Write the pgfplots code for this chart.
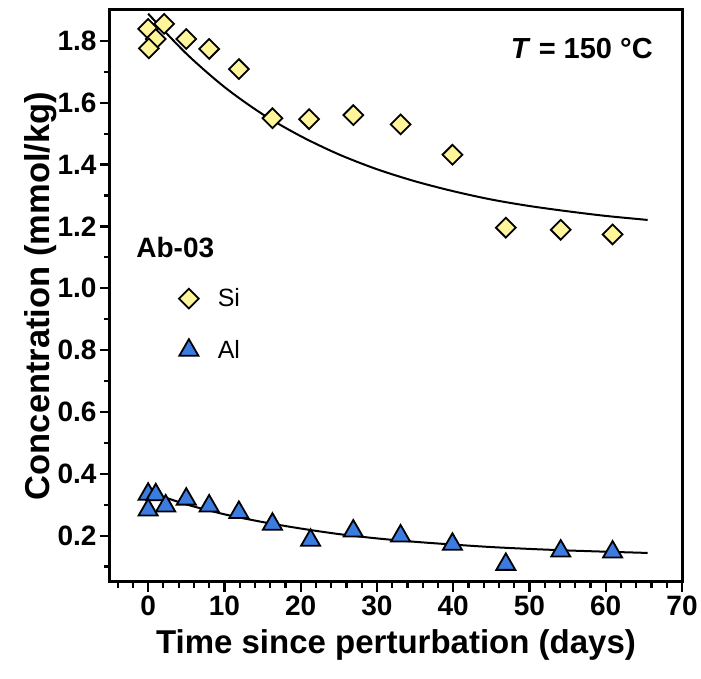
\documentclass[border=0pt]{standalone}
\usepackage{fontspec}
\setmainfont{Liberation Sans}
\usepackage{pgfplots}
\pgfplotsset{compat=1.18}
\definecolor{siFill}{HTML}{FFF59A}
\definecolor{alFill}{HTML}{3C7BE0}

\begin{document}
\begin{tikzpicture}
\path[use as bounding box] (-110pt,-97pt) rectangle (591pt,582pt);
\begin{axis}[
  scale only axis, width=572pt, height=572pt,
  xmin=-5, xmax=70, ymin=0.05, ymax=1.9,
  clip=false,
  axis line style={line width=3pt, black},
  xtick={0,10,...,70}, minor xtick={-4,-2,...,68},
  ytick={0.2,0.4,0.6,0.8,1.0,1.2,1.4,1.6,1.8},
  minor ytick={0.1,0.3,0.5,0.7,0.9,1.1,1.3,1.5,1.7},
  tick pos=left, tick align=outside,
  major tick length=10pt, minor tick length=6pt,
  every tick/.style={line width=2.2pt, black},
  /pgf/number format/assume math mode=true,
  tick label style={font=\bfseries\fontsize{28}{32}\selectfont},
  yticklabel style={/pgf/number format/.cd, fixed, fixed zerofill, precision=1},
  xlabel={Time since perturbation (days)},
  ylabel={Concentration (mmol/kg)},
  label style={font=\bfseries\fontsize{33}{38}\selectfont},
  xlabel style={at={(axis description cs:0.5,-0.11)}, anchor=center},
  ylabel style={at={(axis description cs:-0.122,0.5)}, anchor=center,
    font=\bfseries\fontsize{34.5}{38}\selectfont},
  legend style={at={(rel axis cs:0.115,0.52)}, anchor=north west, draw=none, fill=none,
    font=\fontsize{25}{29}\selectfont, row sep=28pt, column sep=17pt},
  legend cell align=left,
]
% fitted curves
\addplot[black, line width=2pt, smooth, forget plot] coordinates {
  (0,1.888) (5,1.759) (10,1.651) (15,1.563) (20,1.492) (25,1.433) (30,1.385)
  (35,1.346) (40,1.314) (45,1.287) (50,1.266) (55,1.249) (60,1.234) (65.5,1.221)};
\addplot[black, line width=2pt, smooth, forget plot] coordinates {
  (1,0.334) (5,0.301) (10,0.269) (15,0.244) (20,0.223) (25,0.205) (30,0.191)
  (35,0.180) (40,0.171) (45,0.163) (50,0.157) (55,0.152) (60,0.148) (65.5,0.144)};

% Si
\addplot[only marks, mark=square*, mark size=7pt,
  mark options={rotate=45, fill=siFill, draw=black, line width=1.8pt}] coordinates {
  (0,1.839) (2.1,1.855) (1.0,1.806) (0.1,1.776) (5.0,1.806) (8.0,1.774)
  (11.9,1.709) (16.3,1.550) (21.1,1.547) (26.9,1.560) (33.1,1.530)
  (39.9,1.432) (46.9,1.196) (54.1,1.189) (60.9,1.174)};
\addlegendentry{Si}
% Al
\addplot[only marks, mark=triangle*, mark size=11pt,
  mark options={fill=alFill, draw=black, line width=1.8pt}] coordinates {
  (0,0.334) (1.0,0.332) (0,0.283) (2.3,0.296) (5.0,0.318) (8.0,0.296)
  (11.9,0.275) (16.3,0.237) (21.3,0.185) (26.9,0.215) (33.1,0.199)
  (39.9,0.172) (46.9,0.107) (54.1,0.150) (60.9,0.147)};
\addlegendentry{Al}

% frame
\draw[black, line width=3pt, line join=miter] (rel axis cs:0,0) -- (rel axis cs:1,0) -- (rel axis cs:1,1) -- (rel axis cs:0,1) -- cycle;
\node[anchor=west, font=\bfseries\fontsize{28}{32}\selectfont] at (rel axis cs:0.04,0.584) {Ab-03};
\node[anchor=east, font=\bfseries\fontsize{29}{33}\selectfont] at (rel axis cs:0.955,0.932) {\textit{T} = 150 °C};
\end{axis}
\end{tikzpicture}
\end{document}
